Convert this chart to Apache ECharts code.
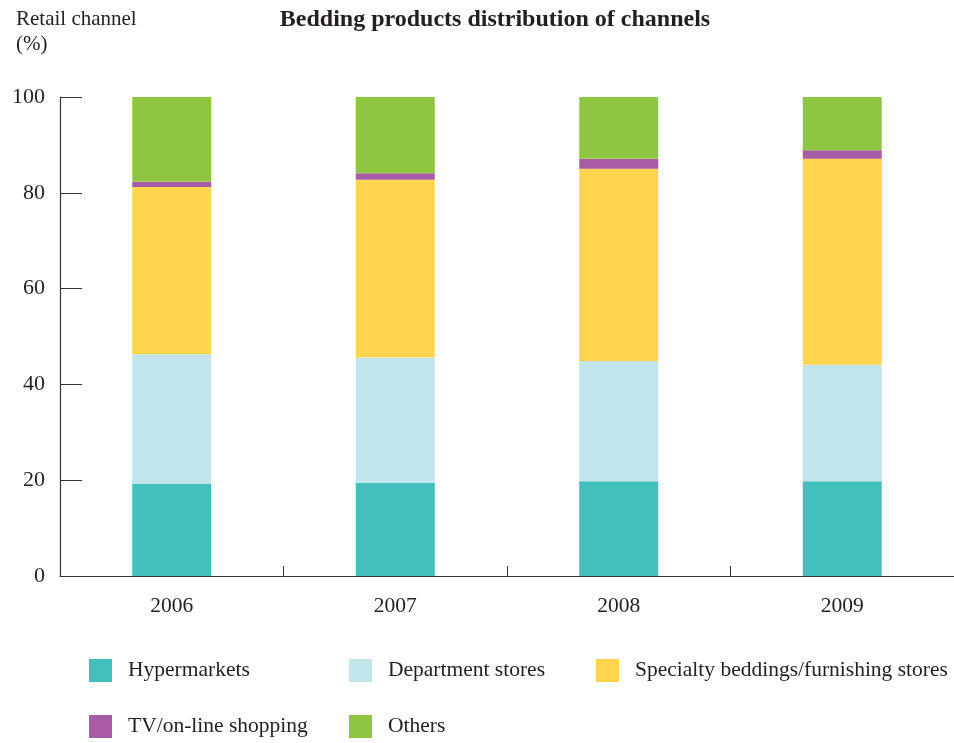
<!DOCTYPE html>
<html>
<head>
<meta charset="utf-8">
<script src="https://cdn.jsdelivr.net/npm/echarts@6/dist/echarts.min.js"></script>
<style>
  html, body { margin: 0; padding: 0; background: #fff; }
  #chart { width: 954px; height: 743px; }
</style>
</head>
<body>
<div id="chart"></div>
<script>
// Share of bedding sales by retail channel (%), per year
const years = ['2006', '2007', '2008', '2009'];
const hypermarkets = [19.2, 19.4, 19.8, 19.8];
const departmentStores = [27.1, 26.2, 25.1, 24.3];
const specialtyStores = [34.9, 37.1, 40.1, 43.0];
const tvOnline = [1.1, 1.4, 2.1, 1.8];
const others = [17.7, 15.9, 12.9, 11.1];

const seriesNames = [
  'Hypermarkets',
  'Department stores',
  'Specialty beddings/furnishing stores',
  'TV/on-line shopping',
  'Others'
];
const seriesValues = [hypermarkets, departmentStores, specialtyStores, tvOnline, others];
const seriesColors = ['#43bfbd', '#c1e5ea', '#ffd550', '#a75ca5', '#8fc641'];

const serif = '"Liberation Serif", "DejaVu Serif", serif';
const textColor = '#231f20';

// one legend block per entry so each sits in its own column/row
const legendSpots = [
  { left: 89, top: 659 },
  { left: 349, top: 659 },
  { left: 596, top: 659 },
  { left: 89, top: 715 },
  { left: 349, top: 715 }
];

const chart = echarts.init(document.getElementById('chart'), null, { renderer: 'canvas' });

chart.setOption({
  animation: false,
  backgroundColor: '#ffffff',
  textStyle: { fontFamily: serif, color: textColor },
  title: [
    {
      text: 'Bedding products distribution of channels',
      left: 490,
      textAlign: 'center',
      top: 3,
      textStyle: { fontFamily: serif, fontWeight: 'bold', fontSize: 24, color: textColor }
    },
    {
      text: 'Retail channel\n(%)',
      left: 11,
      top: 2,
      textStyle: { fontFamily: serif, fontWeight: 'normal', fontSize: 21, lineHeight: 25, color: textColor }
    }
  ],
  legend: legendSpots.map((spot, i) => ({
    data: [seriesNames[i]],
    left: spot.left,
    top: spot.top,
    orient: 'horizontal',
    icon: 'rect',
    itemWidth: 23,
    itemHeight: 23,
    itemGap: 0,
    padding: 0,
    selectedMode: false,
    textStyle: { fontFamily: serif, fontSize: 21.5, color: textColor, padding: [0, 0, 0, 11] }
  })),
  grid: { left: 60, top: 97, width: 908, height: 479, containLabel: false },
  xAxis: {
    type: 'category',
    data: years,
    axisLine: { lineStyle: { color: '#333333', width: 1.2 } },
    axisTick: { show: true, inside: true, length: 10, alignWithLabel: false, lineStyle: { color: '#333333' } },
    axisLabel: { fontFamily: serif, fontSize: 21.5, color: textColor, margin: 19 },
    splitLine: { show: false }
  },
  yAxis: {
    type: 'value',
    min: 0,
    max: 100,
    interval: 20,
    axisLine: { show: true, lineStyle: { color: '#333333', width: 1.2 } },
    axisTick: { show: true, inside: true, length: 22, lineStyle: { color: '#333333' } },
    axisLabel: { fontFamily: serif, fontSize: 22, color: textColor, margin: 15 },
    splitLine: { show: false }
  },
  series: seriesNames.map((name, i) => ({
    name: name,
    type: 'bar',
    stack: 'share',
    barWidth: 79,
    data: seriesValues[i],
    itemStyle: { color: seriesColors[i] },
    emphasis: { disabled: true }
  }))
});
</script>
</body>
</html>
